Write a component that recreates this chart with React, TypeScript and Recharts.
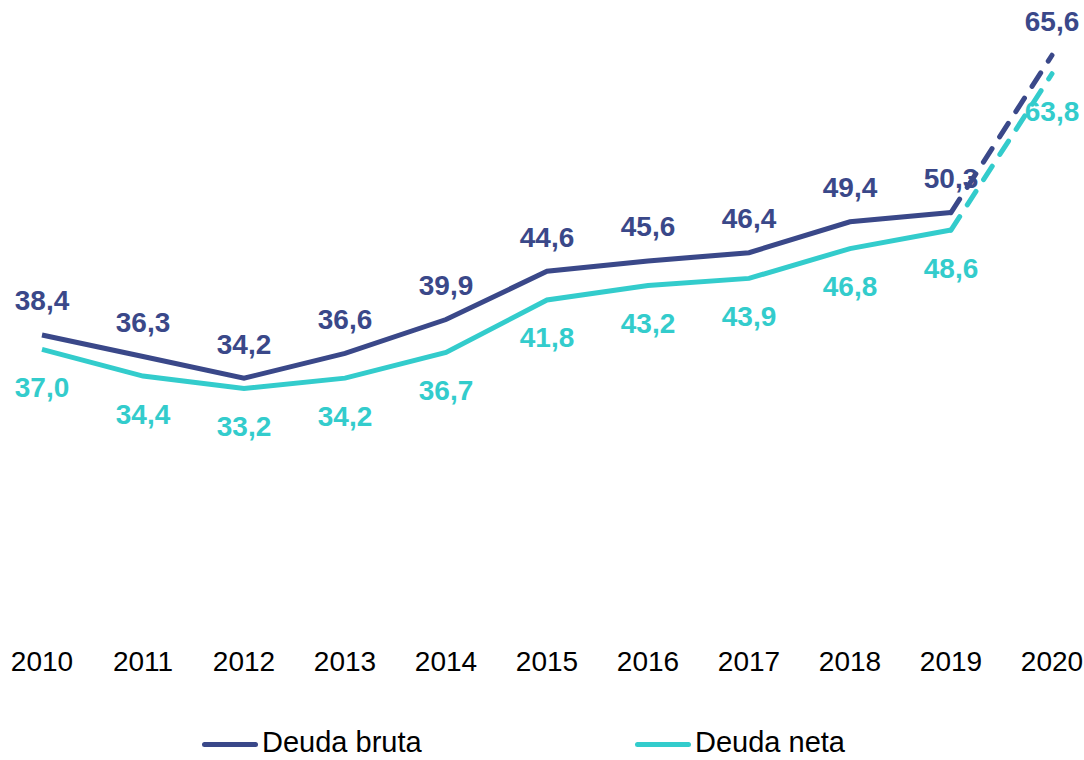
import { LineChart, Line, XAxis, YAxis, LabelList } from 'recharts';

const years = ['2010', '2011', '2012', '2013', '2014', '2015', '2016', '2017', '2018', '2019', '2020'];
const deudaBruta = [38.4, 36.3, 34.2, 36.6, 39.9, 44.6, 45.6, 46.4, 49.4, 50.3, 65.6];
const deudaNeta = [37.0, 34.4, 33.2, 34.2, 36.7, 41.8, 43.2, 43.9, 46.8, 48.6, 63.8];
// last year is a projection, drawn dashed
const firstProjected = 10;

const BRUTA = '#3A4889';
const NETA = '#33CCCC';
const FONT = '"Liberation Sans", Arial, sans-serif';

const chartData = years.map((year, i) => ({
  year,
  bruta: deudaBruta[i],
  neta: deudaNeta[i],
  brutaSolid: i < firstProjected ? deudaBruta[i] : null,
  netaSolid: i < firstProjected ? deudaNeta[i] : null,
  brutaDash: i >= firstProjected - 1 ? deudaBruta[i] : null,
  netaDash: i >= firstProjected - 1 ? deudaNeta[i] : null,
}));

const fmt = (v: number) => v.toFixed(1).replace('.', ',');

function makeLabel(color: string, dy: number) {
  return (props: any) => {
    const { x, y, value } = props;
    if (value == null) return null;
    return (
      <text
        x={x}
        y={y + dy}
        textAnchor="middle"
        dominantBaseline="central"
        fill={color}
        fontFamily={FONT}
        fontSize={28}
        fontWeight="bold"
      >
        {fmt(value)}
      </text>
    );
  };
}

const YearTick = (props: any) => {
  const { x, y, payload } = props;
  return (
    <text x={x} y={y + 44} textAnchor="middle" fill="#000" fontFamily={FONT} fontSize={28}>
      {payload.value}
    </text>
  );
};

function LegendItem({ left, color, label }: { left: number; color: string; label: string }) {
  return (
    <div style={{ position: 'absolute', left, top: 726, display: 'flex', alignItems: 'center' }}>
      <div style={{ width: 56, height: 5, borderRadius: 3, background: color, marginRight: 4, marginTop: 3 }} />
      <span style={{ fontFamily: FONT, fontSize: 29, color: '#000', whiteSpace: 'nowrap' }}>{label}</span>
    </div>
  );
}

export default function App() {
  return (
    <div style={{ position: 'absolute', left: 0, top: 0, width: 1084, height: 760, background: '#fff', overflow: 'hidden' }}>
      <LineChart width={1084} height={760} data={chartData} margin={{ top: 10, right: 0, bottom: 0, left: 0 }}>
        <XAxis
          dataKey="year"
          axisLine={false}
          tickLine={false}
          tickSize={0}
          tickMargin={0}
          height={133}
          padding={{ left: 42, right: 32 }}
          interval={0}
          tick={<YearTick />}
        />
        <YAxis hide domain={[10, 70]} />
        <Line dataKey="brutaSolid" stroke={BRUTA} strokeWidth={5} dot={false} isAnimationActive={false} connectNulls={false} />
        <Line dataKey="netaSolid" stroke={NETA} strokeWidth={5} dot={false} isAnimationActive={false} connectNulls={false} />
        <Line dataKey="brutaDash" stroke={BRUTA} strokeWidth={5} strokeDasharray="16 14" strokeLinecap="round" dot={false} isAnimationActive={false} />
        <Line dataKey="netaDash" stroke={NETA} strokeWidth={5} strokeDasharray="16 14" strokeLinecap="round" dot={false} isAnimationActive={false} />
        <Line dataKey="bruta" stroke="none" dot={false} activeDot={false} isAnimationActive={false}>
          <LabelList dataKey="bruta" content={makeLabel(BRUTA, -34)} />
        </Line>
        <Line dataKey="neta" stroke="none" dot={false} activeDot={false} isAnimationActive={false}>
          <LabelList dataKey="neta" content={makeLabel(NETA, 38)} />
        </Line>
      </LineChart>
      <LegendItem left={202} color={BRUTA} label="Deuda bruta" />
      <LegendItem left={635} color={NETA} label="Deuda neta" />
    </div>
  );
}
